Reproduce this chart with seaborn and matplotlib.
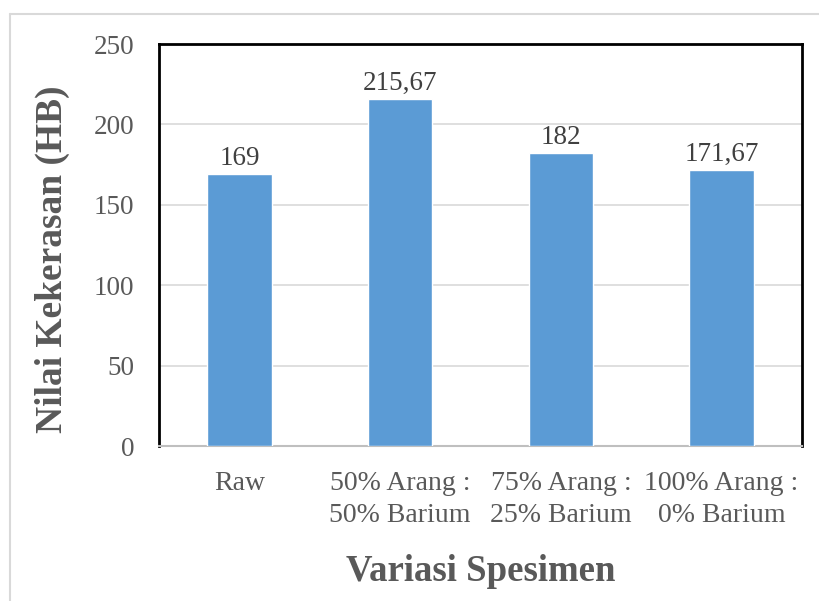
import matplotlib
matplotlib.use("Agg")
import matplotlib.pyplot as plt
import seaborn as sns
import pandas as pd
from matplotlib.lines import Line2D

categories = ["Raw", "50% Arang :\n50% Barium", "75% Arang :\n25% Barium", "100% Arang :\n0% Barium"]
values = [169, 215.67, 182, 171.67]
value_labels = ["169", "215,67", "182", "171,67"]
yticks = [0, 50, 100, 150, 200, 250]

sns.set_theme(style="white")
plt.rcParams['font.family'] = ['Liberation Serif', 'DejaVu Serif']

df = pd.DataFrame({"cat": categories, "val": values})

fig = plt.figure(figsize=(8.19, 6.01), dpi=100)
ax = fig.add_axes([159/819, 1 - 446/601, (802-159)/819, (446-44)/601])

sns.barplot(data=df, x="cat", y="val", color="#5B9BD5", width=0.4, ax=ax,
            saturation=1, zorder=3)

ax.set_ylim(0, 250)
ax.set_yticks(yticks)
ax.set_yticklabels([str(t) for t in yticks], fontsize=19.5, color="#595959")
ax.tick_params(axis='x', labelsize=20, labelcolor="#595959", length=0, pad=18)
ax.tick_params(axis='y', length=0, pad=18)
for lbl in ax.get_xticklabels():
    lbl.set_linespacing(1.35)
ax.yaxis.grid(True, color="#D9D9D9", linewidth=1.2, zorder=0)
ax.set_axisbelow(True)

for s in ["left", "top", "right"]:
    ax.spines[s].set_color("black")
    ax.spines[s].set_linewidth(2)
ax.spines["bottom"].set_color("#BFBFBF")
ax.spines["bottom"].set_linewidth(1.5)

for p, lab in zip(ax.patches, value_labels):
    ax.text(p.get_x() + p.get_width()/2, p.get_height() + 2, lab,
            ha="center", va="bottom", fontsize=19.5, color="#404040")

ax.set_xlabel("Variasi Spesimen", fontsize=26.5, fontweight="bold", color="#595959")
ax.set_ylabel("Nilai Kekerasan (HB)", fontsize=27, fontweight="bold", color="#595959")
ax.xaxis.set_label_coords(0.5, -(554-446)/402, transform=ax.transAxes)
ax.yaxis.set_label_coords(-(159-70)/643, 0.5 - 14/402, transform=ax.transAxes)

fig.lines.append(Line2D([9.5/819, 1], [1 - 14/601, 1 - 14/601], transform=fig.transFigure,
                        color="#D9D9D9", linewidth=1.5))
fig.lines.append(Line2D([9.5/819, 9.5/819], [0, 1 - 14/601], transform=fig.transFigure,
                        color="#D9D9D9", linewidth=1.5))

fig.savefig("out.png", dpi=100)
